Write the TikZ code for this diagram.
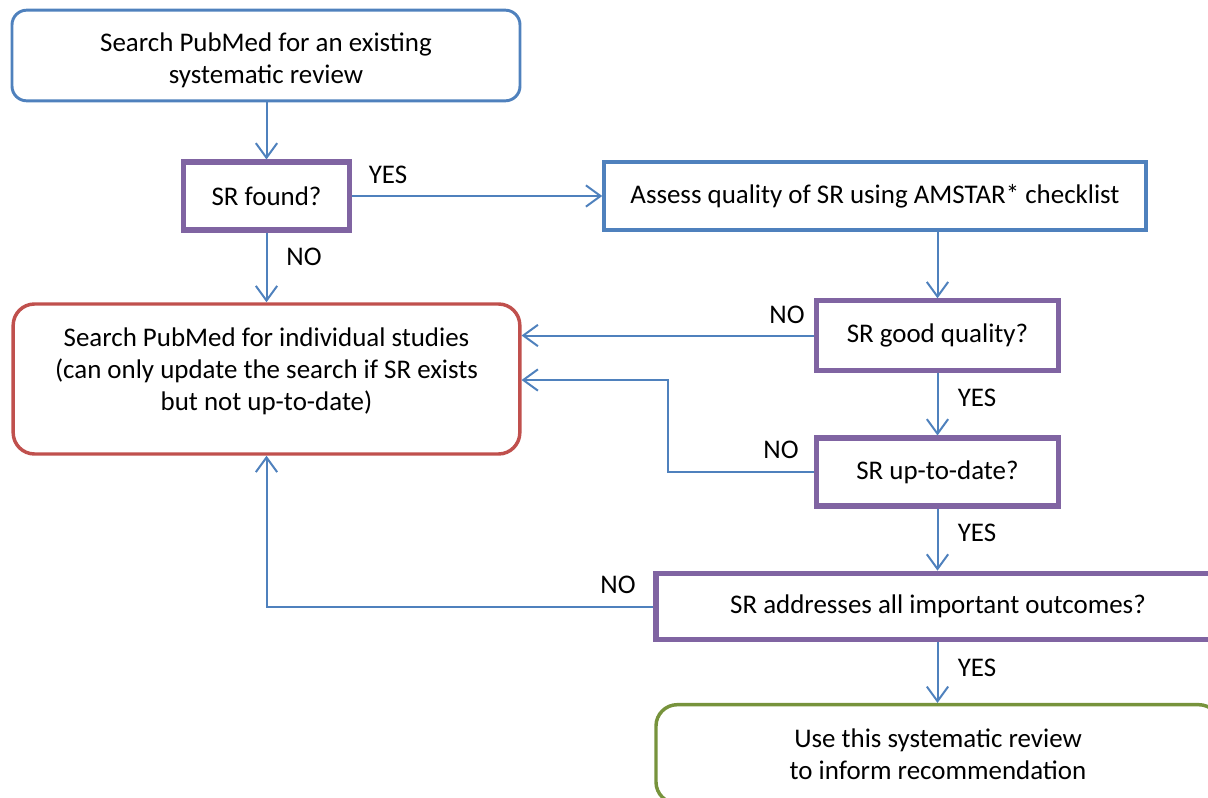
\documentclass[tikz,border=0pt]{standalone}
\usepackage{fontspec}
\setmainfont{Carlito}
\usetikzlibrary{arrows.meta,calc}
\definecolor{lineblue}{HTML}{4F81BD}
\definecolor{boxpurple}{HTML}{8064A2}
\definecolor{boxred}{HTML}{C0504D}
\definecolor{boxgreen}{HTML}{77933C}

\begin{document}
\begin{tikzpicture}[x=0.75pt,y=-0.75pt,
	every node/.style={font=\fontsize{20.2}{24}\selectfont},
	startbox/.style={draw=lineblue, line width=2.2pt, rounded corners=11pt, inner sep=0pt},
	taskbox/.style={draw=lineblue, line width=2.6pt, inner sep=0pt, align=center},
	askbox/.style={draw=boxpurple, line width=3.8pt, inner sep=0pt, align=center},
	loopbox/.style={draw=boxred, line width=2.6pt, rounded corners=16pt, inner sep=0pt},
	endbox/.style={draw=boxgreen, line width=2.6pt, rounded corners=16pt, inner sep=0pt, align=center},
	flow/.style={draw=lineblue, line width=1.5pt, -{Straight Barb[length=11pt,width=16pt]}},
	tag/.style={inner sep=0pt}]
	
	\useasboundingbox (0,0) rectangle (1208,797);
	
	\node[startbox] (search) at (266,55.5) {\parbox[c][68pt][c]{381pt}{\centering\vspace*{7pt}Search PubMed for an existing\\systematic review}};
	\node[askbox, minimum width=124pt, minimum height=51pt] (found) at (266.5,196) {SR found?};
	\node[taskbox, minimum width=406.5pt, minimum height=51pt] (assess) at (875,196) {Assess quality of SR using AMSTAR* checklist};
	\node[loopbox] (studies) at (266.5,379) {\parbox[c][112.5pt][t]{380pt}{\centering\vspace*{17.5pt}Search PubMed for individual studies\\(can only update the search if SR exists\\but not up-to-date)}};
	\node[askbox, minimum width=181pt, minimum height=52pt] (good) at (937.5,335.5) {SR good quality?};
	\node[askbox, minimum width=181pt, minimum height=51pt] (uptodate) at (937.5,472) {SR up-to-date?};
	\node[askbox, minimum width=423pt, minimum height=50pt] (outcomes) at (938,606.5) {SR addresses all important outcomes?};
	\node[endbox, minimum width=423pt, minimum height=74pt] (use) at (938,754) {Use this systematic review\\to inform recommendation};
	
	\coordinate (bend1) at (668,472);
	\coordinate (bend2) at (668,380);
	\coordinate (bend3) at (266.5,606.5);
	
	\draw[flow] (search.south -| found) -- (found);
	\draw[flow] (found.east) -- (assess.west);
	\draw[flow] (found) -- (studies);
	\draw[flow] (assess.south -| good) -- (good);
	\draw[flow] (good.west) -- (good.west -| studies.east);
	\draw[flow] (good) -- (uptodate);
	\draw[flow] (uptodate.west) -- (bend1) -- (bend2) -- (bend2 -| studies.east);
	\draw[flow] (uptodate) -- (uptodate.south |- outcomes.north);
	\draw[flow] (outcomes.west) -- (bend3) -- (studies.south);
	\draw[flow] (outcomes.south -| uptodate) -- (uptodate |- use.north);
	
	\node[tag] (yes1) at (388,175) {YES};
	\node[tag] (no1) at (304,257) {NO};
	\node[tag] (no2) at (787,315) {NO};
	\node[tag] (yes2) at (977,398) {YES};
	\node[tag] (no3) at (781,450) {NO};
	\node[tag] (yes3) at (977,533) {YES};
	\node[tag] (no4) at (618,585) {NO};
	\node[tag] (yes4) at (977,668) {YES};
	
\end{tikzpicture}
\end{document}
